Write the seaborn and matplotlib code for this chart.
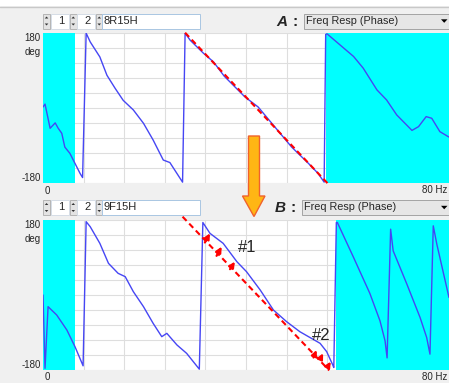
import matplotlib
matplotlib.use("Agg")
import matplotlib.pyplot as plt
from matplotlib.patches import Rectangle, Polygon
from matplotlib.lines import Line2D
import numpy as np
import pandas as pd
import seaborn as sns

# ---- data (Hz, deg) ----
freq_a = [0, 0.4, 1.4, 2.4, 3.0, 3.7, 4.3, 5.3, 6.3, 7.3, 7.8,
          8.5, 9.3, 11.2, 12.6, 14.2, 15.8, 17.8, 19.8, 21.7, 23.7, 25.0, 27.5,
          28.0, 29.0, 31.6, 33.6, 35.7, 39.8, 42.4, 45.7, 49.0, 52.3, 54.2, 55.4,
          55.7, 56.0, 58.5, 61.2, 63.1, 65.8, 67.7, 69.7, 72.7, 74.0, 75.5, 76.6, 78.2, 80.0]
phase_a = [2, 9, -49, -36, -49, -61, -94, -109, -133, -157, -167,
           179, 158, 122, 78, 47, 18, -5, -37, -77, -125, -131, -178,
           179, 162, 131, 110, 76, 26, 2, -46, -94, -133, -157, -178,
           176, 177, 151, 123, 95, 43, 19, -17, -54, -45, -21, -25, -57, -70]

freq_b = [0, 0.4, 1.0, 2.7, 4.7, 6.3, 7.9,
          8.5, 9.3, 11.2, 12.9, 14.8, 16.2, 17.8, 19.8, 21.7, 23.4, 24.4, 26.4, 28.3, 30.8,
          31.5, 32.9, 35.5, 38.2, 40.1, 42.8, 45.4, 48.0, 50.6, 54.6, 55.9, 57.1, 57.3,
          57.8, 58.0, 61.2, 64.4, 66.4, 67.4, 67.8,
          68.5, 69.0, 71.7, 74.3, 75.6, 76.25,
          76.9, 77.6, 80.0]
phase_b = [0, -176, -28, -48, -84, -124, -170,
           176, 164, 124, 76, 52, 44, 8, -28, -68, -100, -92, -120, -140, -178,
           174, 148, 124, 80, 56, 12, -36, -64, -88, -116, -136, -168, -174,
           174, 174, 90, 4, -62, -110, -151,
           158, 106, 26, -54, -102, -142,
           166, 122, -6]

cyan_a = [(0, 6.4), (55.7, 80)]
cyan_b = [(0, 6.4), (57.7, 80)]

ref_a_x, ref_a_y = [28.0, 56.1], [180, -181]
ref_b_x, ref_b_y = [27.5, 56.4], [188, -181]

# small red arrows between dashed line and trace in panel B
gap_tail_x = [31.9, 34.2, 36.85, 53.3, 54.6, 56.2]
gap_tail_y = [126, 94, 62, -150, -154, -170]
gap_head_x = [32.9, 35.2, 37.8, 53.9, 55.2, 56.7]
gap_head_y = [148, 116, 80, -132, -140, -160]

names = ["8R15H", "9F15H"]
letters = ["A", "B"]
mode_text = "Freq Resp (Phase)"

W, H = 449, 383


def fx(x):
    return x / W


def fy(y):
    return 1 - y / H


def box(fig, x, y, w, h, fc, ec, lw=0.7, z=1):
    fig.add_artist(Rectangle((fx(x), fy(y + h)), w / W, h / H, transform=fig.transFigure,
                             facecolor=fc, edgecolor=ec, linewidth=lw, zorder=z))


def tri(fig, pts, color, z=3):
    fig.add_artist(Polygon([(fx(a), fy(b)) for a, b in pts], closed=True, transform=fig.transFigure,
                           facecolor=color, edgecolor="none", zorder=z))


def spinner(fig, x, y, h):
    box(fig, x, y, 6.5, h, "#e3e3e3", "#adadad", 0.6)
    cx = x + 3.25
    tri(fig, [(cx - 1.8, y + 5), (cx + 1.8, y + 5), (cx, y + 3)], "#333333")
    tri(fig, [(cx - 1.8, y + h - 5), (cx + 1.8, y + h - 5), (cx, y + h - 3)], "#333333")


def header(fig, y0, name, letter, dd_x):
    h = 15
    spinner(fig, 43.3, y0, h)
    box(fig, 50.5, y0, 18, h, "white", "#d5dde6")
    fig.text(fx(61), fy(y0 + h / 2), "1", fontsize=8, ha="center", va="center")
    spinner(fig, 70, y0, h)
    box(fig, 77, y0, 18, h, "white", "#d5dde6")
    fig.text(fx(87.3), fy(y0 + h / 2), "2", fontsize=8, ha="center", va="center")
    spinner(fig, 96, y0, h)
    box(fig, 102, y0, 98, h, "white", "#a9c6e2")
    fig.text(fx(103.5), fy(y0 + h / 2), name, fontsize=8, ha="left", va="center")
    fig.text(fx(dd_x - 28), fy(y0 + h / 2 + 0.5), letter, fontsize=11, fontweight="bold",
             fontstyle="italic", ha="left", va="center")
    fig.text(fx(dd_x - 12), fy(y0 + h / 2 + 0.5), ":", fontsize=11, fontweight="bold",
             ha="left", va="center")
    box(fig, dd_x, y0, W - dd_x - 0.5, h, "#e6e6e6", "#a3a3a3")
    fig.text(fx(dd_x + 2), fy(y0 + h / 2), mode_text, fontsize=7.8, ha="left", va="center")
    tri(fig, [(441, y0 + 5.8), (447.5, y0 + 5.8), (444.2, y0 + 9.3)], "black")


def panel(ax, freq, phase, spans, rx, ry):
    ax.set_xlim(0, 80)
    ax.set_ylim(-180, 180)
    ax.set_xticks(np.arange(0, 81, 8))
    ax.set_yticks(np.arange(-180, 181, 36))
    ax.set_axisbelow(True)
    ax.grid(True, color="#dedede", linewidth=0.8)
    ax.tick_params(length=0, labelbottom=False, labelleft=False)
    for s in ax.spines.values():
        s.set_visible(False)
    for a, b in spans:
        ax.axvspan(a, b, color="#00ffff", lw=0, zorder=1)
    df = pd.DataFrame({"freq": freq, "phase": phase})
    sns.lineplot(data=df, x="freq", y="phase", sort=False, estimator=None,
                 color="#4646f4", linewidth=1.0, ax=ax, zorder=3)
    ax.plot(rx, ry, color="red", linestyle=(0, (2.8, 1.8)), linewidth=1.5, clip_on=False, zorder=4)
    ax.set_xlabel("")
    ax.set_ylabel("")


sns.set_style("white")
plt.rcParams["font.family"] = ["Liberation Sans", "DejaVu Sans"]

fig = plt.figure(figsize=(W / 100, H / 100), dpi=100)
fig.patch.set_facecolor("#f0f0f0")

# white strip on top with a thin rule
box(fig, 0, 0, W, 6.2, "white", "none", 0, z=0)
fig.add_artist(Line2D([0, 1], [fy(6.5), fy(6.5)], transform=fig.transFigure, color="#c8c8c8", lw=1))

ax_a = fig.add_axes([fx(43), fy(183), (W - 43) / W, 150.3 / H])
ax_b = fig.add_axes([fx(43), fy(370), (W - 43) / W, 150 / H])

panel(ax_a, freq_a, phase_a, cyan_a, ref_a_x, ref_a_y)
panel(ax_b, freq_b, phase_b, cyan_b, ref_b_x, ref_b_y)

for tx, ty, hx, hy in zip(gap_tail_x, gap_tail_y, gap_head_x, gap_head_y):
    ax_b.annotate("", xy=(hx, hy), xytext=(tx, ty),
                  arrowprops=dict(arrowstyle="-|>", color="red", lw=1.6, mutation_scale=8,
                                  shrinkA=0, shrinkB=0), zorder=5)

fig.text(fx(247.5), fy(248), "#1", fontsize=12, ha="center", va="center")
fig.text(fx(321), fy(335), "#2", fontsize=12, ha="center", va="center")

# axis texts
for top, bot in [(32.7, 183), (220, 370)]:
    fig.text(fx(40.7), fy(top + 5), "180", fontsize=7, ha="right", va="center")
    fig.text(fx(40.7), fy(top + 19), "deg", fontsize=7, ha="right", va="center")
    fig.text(fx(40.7), fy(bot - 4.5), "-180", fontsize=7, ha="right", va="center")
    fig.text(fx(44.5), fy(bot + 7.5), "0", fontsize=7, ha="left", va="center")
    fig.text(fx(447.5), fy(bot + 7.2), "80 Hz", fontsize=7, ha="right", va="center")

header(fig, 13.5, names[0], letters[0], 304)
header(fig, 200, names[1], letters[1], 302.3)

# orange arrow between the panels
arrow_pts = [(248.5, 136), (259.5, 136), (259.5, 196), (265, 196), (254, 216.5),
             (242.5, 196), (248.5, 196)]
fig.add_artist(Polygon([(fx(a), fy(b)) for a, b in arrow_pts], closed=True, transform=fig.transFigure,
                       facecolor="#ffb614", edgecolor="#f0622c", linewidth=1.0, zorder=6))

fig.savefig("out.png", dpi=100, facecolor=fig.get_facecolor())
